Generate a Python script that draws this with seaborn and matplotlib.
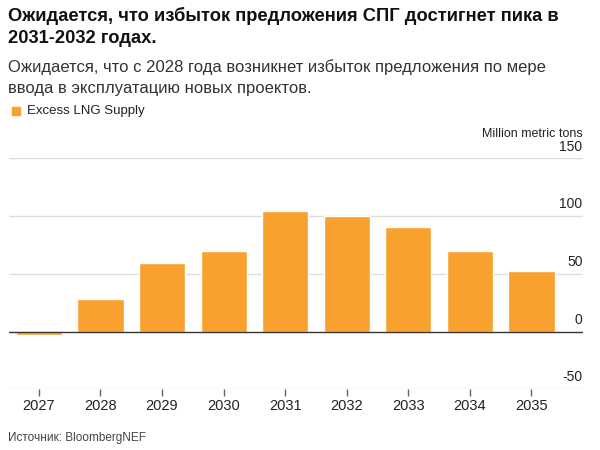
import matplotlib
matplotlib.use("Agg")
import matplotlib.pyplot as plt
import matplotlib.transforms as mtransforms
import pandas as pd
import seaborn as sns

# values (million metric tons)
years = ["2027", "2028", "2029", "2030", "2031", "2032", "2033", "2034", "2035"]
excess_supply = [-3, 28, 59, 69.5, 104, 100.5, 90.5, 70, 52.5]
y_ticks = [-50, 0, 50, 100, 150]

title = "Ожидается, что избыток предложения СПГ достигнет пика в\n2031-2032 годах."
subtitle = "Ожидается, что с 2028 года возникнет избыток предложения по мере\nввода в эксплуатацию новых проектов."
legend_label = "Excess LNG Supply"
unit_label = "Million metric tons"
source = "Источник: BloombergNEF"

bar_color = "#f9a12e"

sns.set_theme(style="white")
plt.rcParams["font.family"] = ["Liberation Sans", "DejaVu Sans"]

df = pd.DataFrame({"year": years, "value": excess_supply})

fig = plt.figure(figsize=(6, 4.5), dpi=100)
ax = fig.add_axes([0.0155, 0.135, 0.9555, 0.513])

sns.barplot(data=df, x="year", y="value", order=years, color=bar_color,
            saturation=1, width=0.75, ax=ax)

ax.set_ylim(-50, 150)
ax.set_xlim(-0.48, 8.83)
for s in ax.spines.values():
    s.set_visible(False)

# gridlines, zero line darker
for v in y_ticks:
    if v == 0:
        ax.axhline(v, color="#333333", lw=1.0, zorder=3)
    else:
        ax.axhline(v, color="#dddddd", lw=1.0, zorder=0)

# y labels sit on the right, above each gridline
trans = mtransforms.blended_transform_factory(ax.transAxes, ax.transData)
offset = mtransforms.offset_copy(trans, fig=fig, x=0, y=3.5, units="points")
for v in y_ticks:
    ax.text(1.0, v, str(v), transform=offset, ha="right", va="bottom",
            fontsize=10, color="#222222")
ax.set_yticks([])
ax.text(1.0, 1.08, unit_label, transform=ax.transAxes, ha="right", va="bottom",
        fontsize=9, color="#222222")

ax.set_xlabel("")
ax.set_ylabel("")
ax.tick_params(axis="x", bottom=True, length=5, width=1, color="#666666",
               labelsize=10.5, labelcolor="#222222", pad=2)

# header
fig.text(0.013, 0.985, title, ha="left", va="top", fontsize=13.2,
         fontweight="bold", color="#111111", linespacing=1.4)
fig.text(0.013, 0.868, subtitle, ha="left", va="top", fontsize=12,
         color="#333333", linespacing=1.5)
fig.patches.append(plt.Rectangle((0.02, 0.745), 0.013, 0.0175,
                                 transform=fig.transFigure, color=bar_color))
fig.text(0.045, 0.754, legend_label, ha="left", va="center", fontsize=9.5,
         color="#222222")

fig.text(0.013, 0.027, source, ha="left", va="center", fontsize=8.5,
         color="#444444")

fig.savefig("out.png", dpi=100)
